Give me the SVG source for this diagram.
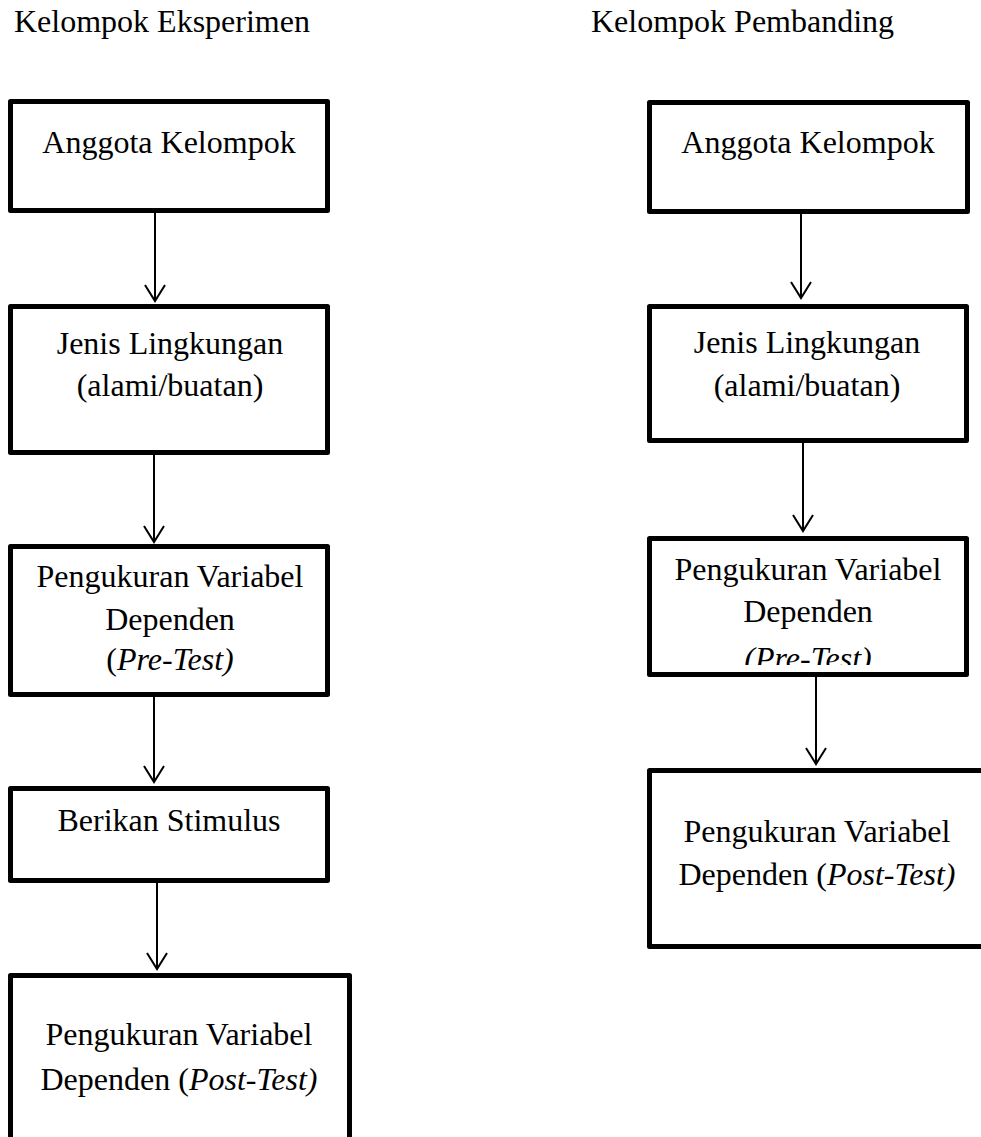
<svg xmlns="http://www.w3.org/2000/svg" width="981" height="1137" viewBox="0 0 981 1137">
<style>
.box{fill:#fff;stroke:#000;stroke-width:5;stroke-linejoin:round}
.t{font-family:"Liberation Serif","Times New Roman",serif;font-size:32px;fill:#000;text-anchor:middle}
.title{font-family:"Liberation Serif","Times New Roman",serif;font-size:32px;fill:#000}
.conn{stroke:#000;stroke-width:2;fill:none}
</style>
<defs>
<marker id="arr" markerUnits="userSpaceOnUse" markerWidth="24" markerHeight="24" refX="16" refY="10" orient="auto" overflow="visible">
<path d="M0,0 L16,10 L0,20" fill="none" stroke="#000" stroke-width="2"/>
</marker>
<clipPath id="clipR3"><rect x="640" y="530" width="340" height="135"/></clipPath>
</defs>
<rect width="981" height="1137" fill="#fff"/>
<text class="title" x="14" y="32">Kelompok Eksperimen</text>
<text class="title" x="591" y="32">Kelompok Pembanding</text>

<g id="connectors">
<line class="conn" x1="155" y1="213" x2="155" y2="301" marker-end="url(#arr)"/>
<line class="conn" x1="154" y1="455" x2="154" y2="542" marker-end="url(#arr)"/>
<line class="conn" x1="154" y1="697" x2="154" y2="782" marker-end="url(#arr)"/>
<line class="conn" x1="157" y1="883" x2="157" y2="969" marker-end="url(#arr)"/>
<line class="conn" x1="801" y1="209" x2="801" y2="298" marker-end="url(#arr)"/>
<line class="conn" x1="803" y1="443" x2="803" y2="531" marker-end="url(#arr)"/>
<line class="conn" x1="816" y1="677" x2="816" y2="764" marker-end="url(#arr)"/>
</g>

<g id="L1">
<rect class="box" x="10.5" y="101.5" width="317" height="109"/>
<text class="t" x="169" y="153">Anggota Kelompok</text>
</g>
<g id="L2">
<rect class="box" x="10.5" y="306.5" width="317" height="146"/>
<text class="t" x="170" y="354">Jenis Lingkungan</text>
<text class="t" x="170" y="396">(alami/buatan)</text>
</g>
<g id="L3">
<rect class="box" x="10.5" y="546.5" width="317" height="148"/>
<text class="t" x="170" y="587">Pengukuran Variabel</text>
<text class="t" x="170" y="630">Dependen</text>
<text class="t" x="170" y="670">(<tspan font-style="italic">Pre-Test)</tspan></text>
</g>
<g id="L4">
<rect class="box" x="10.5" y="788.5" width="317" height="92"/>
<text class="t" x="169" y="831">Berikan Stimulus</text>
</g>
<g id="L5">
<rect class="box" x="10.5" y="975.5" width="339" height="200"/>
<text class="t" x="179" y="1045">Pengukuran Variabel</text>
<text class="t" x="179" y="1090">Dependen (<tspan font-style="italic">Post-Test)</tspan></text>
</g>

<g id="R1">
<rect class="box" x="649.5" y="102.5" width="318" height="109"/>
<text class="t" x="808" y="153">Anggota Kelompok</text>
</g>
<g id="R2">
<rect class="box" x="649.5" y="306.5" width="317" height="134"/>
<text class="t" x="807" y="353">Jenis Lingkungan</text>
<text class="t" x="807" y="396">(alami/buatan)</text>
</g>
<g id="R3">
<rect class="box" x="649.5" y="538.5" width="317" height="136"/>
<text class="t" x="808" y="580">Pengukuran Variabel</text>
<text class="t" x="808" y="622">Dependen</text>
<text class="t" x="808" y="669" font-style="italic" clip-path="url(#clipR3)">(Pre-Test)</text>
</g>
<g id="R4">
<rect class="box" x="649.5" y="770.5" width="400" height="176"/>
<text class="t" x="817" y="842">Pengukuran Variabel</text>
<text class="t" x="817" y="885">Dependen (<tspan font-style="italic">Post-Test)</tspan></text>
</g>
</svg>
